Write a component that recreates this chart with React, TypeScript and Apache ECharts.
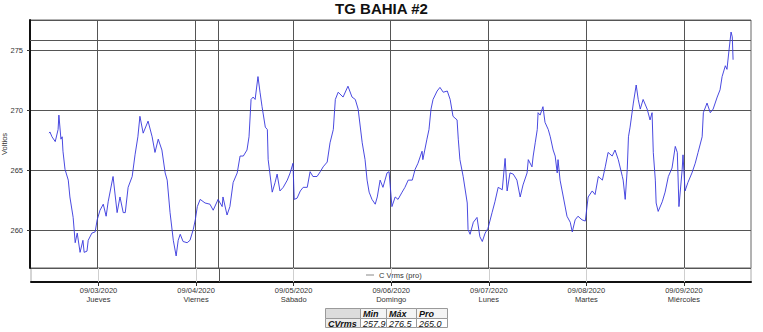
import React, { useEffect, useRef } from "react";
import * as echarts from "echarts";

const TITLE = "TG BAHIA #2";
const SERIES_NAME = "C Vrms (pro)";
const Y_NAME = "Voltios";

// [hours since 2020-09-02 12:00, volts]
const sep02: number[][] = [[0.1,268.1],[0.3,268.2],[0.8,267.8],[1.6,267.4],[2.3,268.4],[2.5,269.6],[3.0,267.6],[3.3,267.8],[3.5,266.6],[4.0,265.1],[4.8,264.2],[5.2,262.8],[6.0,261.1],[6.5,259.0],[7.0,259.8],[7.7,258.2],[8.4,259.2],[8.7,258.2],[9.4,258.3],[9.7,259.2],[10.6,259.8],[11.4,259.9],[11.9,260.9]];
const sep03: number[][] = [[12.6,261.7],[13.4,262.2],[14.1,261.2],[14.6,262.4],[15.8,264.5],[16.8,261.5],[17.5,262.8],[18.3,261.5],[18.8,261.5],[19.5,263.6],[20.5,264.5],[21.2,266.3],[21.9,267.8],[22.4,269.5],[23.2,268.1],[24.4,269.1],[25.4,267.8],[26.1,266.5],[26.9,267.6],[27.8,266.7],[28.6,264.8],[29.1,264.2],[29.8,261.5],[30.6,259.2],[31.3,257.9],[31.8,259.2],[32.3,259.7],[33.0,259.1],[34.0,259.0],[34.7,259.2],[35.5,260.1]];
const sep04: number[][] = [[36.0,260.9],[36.5,262.0],[37.2,262.6],[38.4,262.3],[39.6,262.2],[40.4,261.7],[41.6,262.6],[42.6,262.0],[42.8,262.8],[43.8,261.3],[44.5,262.0],[45.3,264.0],[46.3,264.8],[47.0,266.2],[47.8,266.2],[48.7,266.7],[49.2,267.8],[49.7,270.9],[50.2,271.1],[50.7,270.9],[51.4,272.8],[51.9,271.5],[52.4,270.3],[53.2,268.6],[53.7,268.4],[53.9,265.9],[54.9,263.2],[55.6,264.0],[56.1,264.7],[56.8,263.3],[57.6,263.6],[58.6,264.2],[59.3,264.8]];
const sep05: number[][] = [[60.0,265.6],[60.3,262.6],[61.0,262.7],[61.8,263.3],[62.5,263.6],[63.5,263.6],[64.2,264.9],[64.9,264.5],[65.9,264.5],[66.7,264.9],[67.4,265.3],[68.4,265.7],[69.1,267.3],[69.9,268.4],[70.4,270.9],[71.1,271.5],[72.3,271.1],[73.5,272.0],[74.5,271.1],[75.3,270.9],[76.0,270.1],[77.0,267.3],[77.7,265.9],[78.2,264.2],[78.7,263.2],[79.4,262.6],[80.2,262.2],[80.7,262.8],[81.4,264.2],[82.1,263.6],[83.1,264.8],[83.6,264.9]];
const sep06: number[][] = [[84.3,262.0],[85.1,262.8],[85.8,262.6],[86.8,263.2],[87.5,263.6],[88.3,264.2],[89.3,264.2],[90.0,265.1],[90.7,265.6],[91.7,266.6],[91.9,265.9],[92.9,267.6],[93.4,268.4],[93.9,270.1],[94.4,270.9],[95.4,271.6],[96.1,271.9],[96.9,271.5],[97.9,271.6],[98.6,270.9],[99.3,269.5],[100.3,269.2],[100.6,267.6],[101.0,265.9],[101.8,264.5],[102.8,262.3],[103.0,260.1],[103.5,259.7],[104.3,260.7],[105.2,261.1],[105.9,259.5],[106.5,259.1],[107.2,259.8]];
const sep07: number[][] = [[107.9,260.2],[108.9,261.5],[109.6,262.4],[110.4,263.6],[111.4,263.4],[112.1,266.0],[112.6,263.3],[113.3,264.8],[114.1,264.7],[115.0,264.2],[115.8,262.8],[116.5,263.8],[117.5,264.8],[117.8,265.9],[118.7,265.3],[119.0,266.2],[119.5,267.3],[120.0,268.4],[120.2,269.8],[120.7,269.6],[121.4,270.3],[121.9,269.0],[122.7,268.4],[123.2,267.8],[123.9,266.7],[124.4,266.2],[124.9,264.8],[125.1,265.9],[125.6,264.2],[126.4,262.8],[127.3,261.2],[128.1,260.7],[128.6,259.9],[129.3,260.9],[130.0,261.2],[131.0,260.9]];
const sep08: number[][] = [[131.8,260.8],[132.5,262.8],[133.5,263.3],[134.2,263.0],[135.0,264.5],[136.0,264.2],[136.7,265.3],[137.4,266.5],[138.4,266.2],[139.1,266.7],[139.9,265.9],[140.9,264.5],[141.1,264.2],[141.6,262.6],[142.1,265.1],[142.4,267.8],[142.8,268.6],[143.6,270.6],[144.3,272.1],[144.8,270.9],[145.3,270.1],[146.0,270.9],[147.0,270.1],[147.7,269.2],[148.2,269.8],[148.5,266.5],[149.0,264.2],[149.2,262.3],[149.7,261.6],[150.7,262.4],[151.4,263.2],[152.2,264.5],[153.1,265.2],[153.9,267.0],[154.4,266.5],[154.8,262.0],[155.6,265.1]];
const sep09: number[][] = [[155.8,266.3],[156.3,263.3],[157.0,264.0],[158.0,264.8],[158.8,265.6],[159.5,266.5],[160.5,267.8],[160.8,269.8],[161.7,270.6],[162.5,269.8],[163.2,270.1],[164.2,271.1],[164.9,271.7],[165.4,272.8],[166.2,273.7],[166.6,273.4],[167.1,275.0],[167.6,276.5],[167.9,276.1],[168.1,274.2]];

const START_HOUR = 12; // first sample: 2020-09-02 12:00
// axis in hours since 2020-09-02 00:00
const dayHours = [24, 48, 72, 96, 120, 144, 168];
const dayDates = ["09/03/2020", "09/04/2020", "09/05/2020", "09/06/2020", "09/07/2020", "09/08/2020", "09/09/2020"];
const dayNames = ["Jueves", "Viernes", "Sábado", "Domingo", "Lunes", "Martes", "Miércoles"];
const cursorHour = 53.6;
const limitVolts = 275.8;
const xMin = 7.4;
const xMax = 184.5;
const yMin = 256.9;
const yMax = 277.5;

const statRowLabel = "CVrms";
const statHeaders = ["Min", "Máx", "Pro"];
const statValues = [257.9, 276.5, 265.0];

const FONT = "'Liberation Sans', Arial, sans-serif";

function buildTable() {
  const colX = [325.5, 360.5, 386.5, 416.5, 447.5];
  const rowY = [308.5, 318.5, 327.5];
  const els: any[] = [];
  const cells: { c: number; r: number; text: string; bold: boolean; fill: string }[] = [];
  cells.push({ c: 0, r: 0, text: "", bold: false, fill: "#dcdcdc" });
  statHeaders.forEach((h, i) => cells.push({ c: i + 1, r: 0, text: h, bold: true, fill: "#f4f4f4" }));
  cells.push({ c: 0, r: 1, text: statRowLabel, bold: true, fill: "#ececec" });
  statValues.forEach((v, i) => cells.push({ c: i + 1, r: 1, text: v.toFixed(1), bold: false, fill: "#ffffff" }));
  cells.forEach((cell) => {
    const x0 = colX[cell.c];
    const x1 = colX[cell.c + 1];
    const y0 = rowY[cell.r];
    const y1 = rowY[cell.r + 1];
    els.push({
      type: "rect",
      shape: { x: x0, y: y0, width: x1 - x0, height: y1 - y0 },
      style: { fill: cell.fill, stroke: "#9a9a9a", lineWidth: 1 },
    });
    if (cell.text) {
      els.push({
        type: "text",
        x: x0 + 2.5,
        y: (y0 + y1) / 2 + 0.5,
        style: {
          text: cell.text,
          font: `italic ${cell.bold ? "bold " : ""}9px ${FONT}`,
          fill: "#111",
          align: "left",
          verticalAlign: "middle",
        },
      });
    }
  });
  return els;
}

export default function App() {
  const ref = useRef<HTMLDivElement>(null);
  useEffect(() => {
    if (!ref.current) return;
    const chart = echarts.init(ref.current, null, { renderer: "svg" });
    const samples = [...sep02, ...sep03, ...sep04, ...sep05, ...sep06, ...sep07, ...sep08, ...sep09];
    const data = samples.map(([h, v]) => [START_HOUR + h, v]);
    const option: any = {
      animation: false,
      backgroundColor: "#ffffff",
      textStyle: { fontFamily: FONT },
      title: {
        text: TITLE,
        left: "center",
        top: 1,
        padding: 0,
        textStyle: { fontSize: 15, fontWeight: "bold", color: "#111", fontFamily: FONT },
      },
      legend: {
        data: [{ name: SERIES_NAME, itemStyle: { color: "#888" }, lineStyle: { color: "#888" } }],
        left: 366,
        top: 271,
        padding: 0,
        icon: "rect",
        itemWidth: 8,
        itemHeight: 1,
        itemGap: 4,
        textStyle: { fontSize: 7.5, color: "#333", fontFamily: FONT },
      },
      grid: [
        { left: 30, right: 12, top: 20, height: 248, show: true, borderColor: "#666", borderWidth: 1, backgroundColor: "#fff", containLabel: false, outerBoundsMode: "none" },
        { left: 31, right: 12, top: 268, height: 14, show: true, borderColor: "#aaa", borderWidth: 1, backgroundColor: "#fff", containLabel: false, outerBoundsMode: "none" },
      ],
      xAxis: [
        {
          type: "value",
          gridIndex: 0,
          min: xMin,
          max: xMax,
          axisLine: { show: false },
          axisTick: { show: false },
          axisLabel: { show: false },
          splitLine: { show: false },
        },
        {
          type: "value",
          gridIndex: 1,
          min: xMin,
          max: xMax,
          axisLine: { show: true, lineStyle: { color: "#111", width: 2 } },
          axisTick: { show: true, customValues: dayHours, length: 4, lineStyle: { color: "#333" } },
          axisLabel: {
            customValues: dayHours,
            fontSize: 7.5,
            lineHeight: 9,
            color: "#333",
            margin: 4,
            fontFamily: FONT,
            formatter: (v: number) => {
              const i = dayHours.indexOf(Math.round(v));
              return i >= 0 ? `${dayDates[i]}\n${dayNames[i]}` : "";
            },
          },
          splitLine: { show: false },
        },
      ],
      yAxis: [
        {
          type: "value",
          gridIndex: 0,
          min: yMin,
          max: yMax,
          name: Y_NAME,
          nameLocation: "middle",
          nameRotate: 90,
          nameGap: 22,
          nameMoveOverlap: false,
          nameTextStyle: { fontSize: 7.5, color: "#333", fontFamily: FONT },
          axisLine: { show: true, lineStyle: { color: "#111", width: 2 } },
          axisTick: { show: true, length: 3, lineStyle: { color: "#333" } },
          axisLabel: { fontSize: 7.5, color: "#333", margin: 7, showMinLabel: false, showMaxLabel: false, fontFamily: FONT },
          splitLine: { show: true, lineStyle: { color: "#555", width: 1 } },
        },
        {
          type: "value",
          gridIndex: 1,
          min: 0,
          max: 1,
          show: false,
          splitLine: { show: false },
        },
      ],
      series: [
        {
          name: SERIES_NAME,
          type: "line",
          xAxisIndex: 0,
          yAxisIndex: 0,
          data,
          showSymbol: false,
          symbol: "none",
          lineStyle: { color: "#3535dd", width: 0.9 },
          itemStyle: { color: "#3535dd" },
          z: 5,
          markLine: {
            silent: true,
            symbol: ["none", "none"],
            label: { show: false },
            lineStyle: { color: "#555", width: 1, type: "solid" },
            data: [...dayHours.map((h) => ({ xAxis: h })), { xAxis: cursorHour }, { yAxis: limitVolts }],
          },
        },
        {
          name: "band",
          type: "line",
          xAxisIndex: 1,
          yAxisIndex: 1,
          data: [],
          symbol: "none",
          markLine: {
            silent: true,
            symbol: ["none", "none"],
            label: { show: false },
            lineStyle: { color: "#cfcfcf", width: 1, type: "solid" },
            data: [
              ...dayHours.map((h) => ({ xAxis: h })),
              { xAxis: cursorHour, lineStyle: { color: "#555" } },
            ],
          },
        },
      ],
      graphic: buildTable(),
    };
    chart.setOption(option);
    return () => chart.dispose();
  }, []);
  return <div ref={ref} style={{ position: "fixed", left: 0, top: 0, width: 763, height: 332 }} />;
}
